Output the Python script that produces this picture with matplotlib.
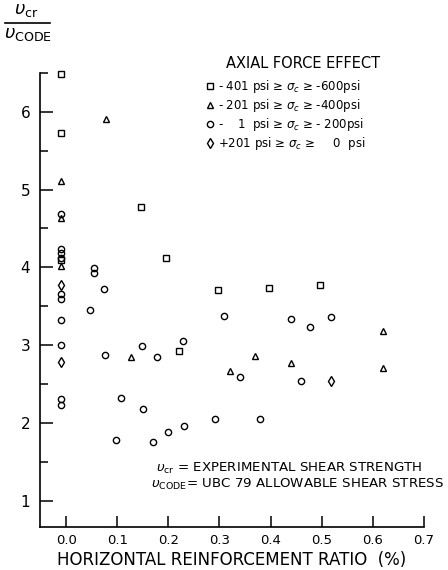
import numpy as np
from matplotlib import pyplot as plt
from matplotlib.lines import Line2D
from matplotlib.ticker import MultipleLocator

# reinforcement ratio (%) and v_cr / v_code, by axial stress group
square_x = [-0.01, -0.01, -0.01, 0.146, 0.196, 0.220, 0.297, 0.397, 0.497]
square_y = [6.48, 5.72, 4.10, 4.77, 4.12, 2.93, 3.71, 3.74, 3.77]

triangle_x = [-0.01, -0.01, -0.01, 0.078, 0.127, 0.320, 0.370, 0.439, 0.620, 0.620]
triangle_y = [5.11, 4.64, 4.02, 5.91, 2.85, 2.67, 2.86, 2.77, 3.18, 2.71]

circle_x = [-0.01, -0.01, -0.01, -0.01, -0.01, -0.01, -0.01, -0.01, -0.01, -0.01,
            0.055, 0.055, 0.075, 0.046, 0.077, 0.148, 0.178, 0.229, 0.107, 0.150,
            0.098, 0.170, 0.199, 0.231, 0.291, 0.380, 0.309, 0.340, 0.439, 0.478,
            0.518, 0.459]
circle_y = [4.69, 4.24, 4.18, 4.12, 3.66, 3.59, 3.33, 3.01, 2.31, 2.23,
            3.99, 3.93, 3.72, 3.45, 2.88, 2.99, 2.85, 3.05, 2.33, 2.18,
            1.78, 1.76, 1.89, 1.97, 2.06, 2.05, 3.38, 2.59, 3.34, 3.24,
            3.36, 2.54]

diamond_x = [-0.01, -0.01, 0.519]
diamond_y = [3.77, 2.79, 2.54]

group_labels = [
    '- 401 psi \u2265 $\\sigma_c$ \u2265 -600psi',
    '- 201 psi \u2265 $\\sigma_c$ \u2265 -400psi',
    '-    1  psi \u2265 $\\sigma_c$ \u2265 - 200psi',
    '+201 psi \u2265 $\\sigma_c$ \u2265     0  psi',
]
xticks = [0.0, 0.1, 0.2, 0.3, 0.4, 0.5, 0.6, 0.7]
xticklabels = ['0.0', '0.1', '0.2', '0.3', '0.4', '0.5', '0.6', '0.7']
yticks = [1, 2, 3, 4, 5, 6]

plt.rcParams['mathtext.fontset'] = 'dejavusans'

fig = plt.figure(figsize=(4.48, 5.7), dpi=100)
ax = fig.add_axes([0.0893, 0.0754, 0.857, 0.797])

mk = dict(linestyle='none', color='black', markerfacecolor='none',
          markeredgewidth=1.0, clip_on=False)
h1, = ax.plot(square_x, square_y, marker='s', markersize=4.5, **mk)
h2, = ax.plot(triangle_x, triangle_y, marker='^', markersize=5, **mk)
h3, = ax.plot(circle_x, circle_y, marker='o', markersize=4.5, **mk)
h4, = ax.plot(diamond_x, diamond_y, marker='d', markersize=5, **mk)

ax.set_xlim(-0.051, 0.7)
ax.set_ylim(0.667, 6.5)
for s in ['top', 'right']:
    ax.spines[s].set_visible(False)
ax.spines['left'].set_linewidth(1.2)
ax.spines['bottom'].set_linewidth(1.2)

ax.set_xticks(xticks)
ax.set_xticklabels(xticklabels)
ax.set_yticks(yticks)
ax.yaxis.set_minor_locator(MultipleLocator(0.5))
ax.tick_params(axis='x', direction='in', length=8, width=1.1, labelsize=9.5, pad=5)
ax.tick_params(axis='y', which='major', direction='in', length=9, width=1.1,
               labelsize=11, pad=7)
ax.tick_params(axis='y', which='minor', direction='in', length=6, width=1.1)
ax.set_xlabel('HORIZONTAL REINFORCEMENT RATIO  (%)', fontsize=12, labelpad=3)

leg = ax.legend([h1, h2, h3, h4], group_labels, title='AXIAL FORCE EFFECT',
                loc='upper right', bbox_to_anchor=(0.86, 1.035), frameon=False,
                fontsize=8.5, title_fontsize=10.5, handletextpad=0.2,
                handlelength=1.0, labelspacing=0.15, borderaxespad=0.0)
leg._legend_box.align = 'left'
leg.get_title().set_position((22, 6))

# y label drawn as a fraction above the axis
fig.text(26 / 448, 1 - 10 / 570, r'$\upsilon_{\mathsf{cr}}$', fontsize=13,
         ha='center', va='center')
fig.add_artist(Line2D([5 / 448, 50 / 448], [1 - 23 / 570, 1 - 23 / 570],
                      color='black', linewidth=1.2))
fig.text(28 / 448, 1 - 34 / 570, r'$\upsilon_{\mathsf{CODE}}$', fontsize=13,
         ha='center', va='center')

fig.text(156 / 448, 1 - 468 / 570,
         r'$\upsilon_{\mathsf{cr}}$ = EXPERIMENTAL SHEAR STRENGTH',
         fontsize=9.6, ha='left', va='center')
fig.text(151 / 448, 1 - 484 / 570,
         r'$\upsilon_{\mathsf{CODE}}$= UBC 79 ALLOWABLE SHEAR STRESS',
         fontsize=9.6, ha='left', va='center')

fig.savefig('out.png', dpi=100)
